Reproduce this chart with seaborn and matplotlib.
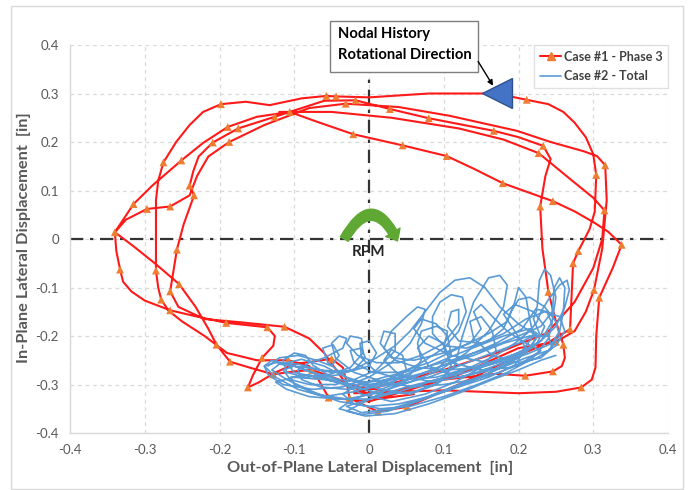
import matplotlib
matplotlib.use("Agg")
import matplotlib.pyplot as plt
import seaborn as sns
import pandas as pd
from matplotlib.lines import Line2D
from matplotlib.patches import Rectangle, FancyArrowPatch

sns.set_theme(style="white")
plt.rcParams['font.family'] = ['Lato', 'DejaVu Sans']

ticks = [-0.4, -0.3, -0.2, -0.1, 0.0, 0.1, 0.2, 0.3, 0.4]
tick_labels = ['-0.4', '-0.3', '-0.2', '-0.1', '0', '0.1', '0.2', '0.3', '0.4']
series_names = ['Case #1 - Phase 3', 'Case #2 - Total']

# Case #1 - Phase 3 : (x, y, has_marker)
case1_path = [
    (-0.120, 0.262, 0), (-0.050, 0.262, 0), (0.030, 0.250, 0), (0.120, 0.228, 0),
    (0.180, 0.205, 0), (0.227, 0.177, 1), (0.272, 0.120, 0), (0.300, 0.085, 0),
    (0.315, 0.059, 1), (0.312, 0.000, 0), (0.300, -0.060, 0), (0.275, -0.130, 0),
    (0.238, -0.194, 1), (0.180, -0.230, 0), (0.100, -0.270, 0),
    (-0.020, -0.318, 0), (0.100, -0.312, 0), (0.200, -0.318, 0), (0.250, -0.315, 0),
    (0.284, -0.306, 1), (0.298, -0.290, 0), (0.303, -0.265, 0), (0.304, -0.200, 0),
    (0.308, -0.121, 1), (0.326, -0.060, 0), (0.338, -0.012, 1), (0.320, 0.015, 0),
    (0.300, 0.035, 0), (0.275, 0.057, 0), (0.246, 0.078, 1), (0.179, 0.115, 1),
    (0.140, 0.145, 0), (0.104, 0.171, 1), (0.045, 0.193, 1), (-0.021, 0.216, 1),
    (-0.070, 0.242, 0), (-0.106, 0.262, 1), (-0.150, 0.252, 0), (-0.189, 0.231, 1),
    (-0.222, 0.198, 0), (-0.251, 0.162, 1), (-0.290, 0.110, 0), (-0.315, 0.072, 1),
    (-0.340, 0.014, 1), (-0.338, -0.025, 0), (-0.333, -0.063, 1), (-0.329, -0.088, 0),
    (-0.318, -0.108, 0), (-0.300, -0.127, 0), (-0.266, -0.147, 1), (-0.230, -0.160, 0),
    (-0.191, -0.173, 1), (-0.136, -0.182, 1), (-0.126, -0.200, 0), (-0.128, -0.220, 0),
    (-0.143, -0.245, 1), (-0.155, -0.280, 0), (-0.162, -0.306, 1), (-0.148, -0.296, 0),
    (-0.125, -0.275, 0), (-0.100, -0.258, 0), (-0.050, -0.247, 1), (-0.035, -0.265, 0),
    (-0.030, -0.295, 0), (-0.026, -0.328, 1), (0.012, -0.356, 1), (0.051, -0.346, 1),
    (0.120, -0.300, 0), (0.200, -0.240, 0), (0.238, -0.215, 0), (0.269, -0.186, 1),
    (0.271, -0.120, 0), (0.273, -0.050, 1), (0.280, -0.025, 1), (0.295, 0.020, 0),
    (0.302, 0.056, 0), (0.304, 0.132, 1), (0.300, 0.175, 0), (0.290, 0.210, 0),
    (0.275, 0.240, 0), (0.260, 0.262, 0), (0.240, 0.278, 0), (0.211, 0.287, 1),
    (0.170, 0.300, 0), (0.080, 0.300, 0), (0.000, 0.292, 0), (-0.044, 0.294, 1),
    (-0.057, 0.295, 1), (-0.090, 0.290, 0), (-0.133, 0.276, 0), (-0.165, 0.283, 0),
    (-0.198, 0.278, 1), (-0.222, 0.262, 0), (-0.240, 0.235, 0), (-0.258, 0.200, 0),
    (-0.275, 0.158, 1), (-0.282, 0.120, 0), (-0.285, 0.080, 0), (-0.285, 0.000, 0),
    (-0.285, -0.065, 1), (-0.282, -0.100, 0), (-0.278, -0.125, 1), (-0.268, -0.148, 0),
    (-0.250, -0.170, 0), (-0.220, -0.200, 0), (-0.190, -0.235, 0), (-0.150, -0.250, 0),
    (-0.108, -0.250, 1), (-0.080, -0.262, 0), (-0.071, -0.281, 1), (-0.054, -0.327, 1),
    (0.000, -0.335, 0), (0.100, -0.290, 0), (0.170, -0.278, 0), (0.209, -0.282, 1),
    (0.246, -0.273, 1), (0.258, -0.262, 0), (0.262, -0.245, 0), (0.260, -0.218, 1),
    (0.250, -0.170, 0), (0.240, -0.109, 1), (0.232, -0.020, 0), (0.229, 0.067, 1),
    (0.236, 0.130, 0), (0.243, 0.165, 0), (0.233, 0.192, 1), (0.200, 0.210, 0),
    (0.167, 0.223, 1), (0.080, 0.249, 1), (0.028, 0.268, 1), (-0.018, 0.286, 1),
    (-0.060, 0.285, 0), (-0.126, 0.252, 1), (-0.175, 0.228, 1), (-0.209, 0.199, 1),
    (-0.228, 0.170, 0), (-0.235, 0.140, 0), (-0.240, 0.110, 1), (-0.234, 0.090, 1),
    (-0.248, 0.030, 0), (-0.257, -0.022, 1), (-0.262, -0.070, 0), (-0.266, -0.108, 1),
    (-0.255, -0.140, 0), (-0.220, -0.165, 0), (-0.170, -0.172, 0), (-0.113, -0.181, 1),
    (-0.080, -0.205, 0), (-0.060, -0.235, 0), (-0.030, -0.300, 0), (0.030, -0.315, 0),
    (0.120, -0.280, 0), (0.200, -0.225, 0), (0.250, -0.212, 1), (0.275, -0.190, 0),
    (0.290, -0.150, 0), (0.301, -0.105, 1), (0.312, -0.020, 0), (0.318, 0.080, 0),
    (0.316, 0.152, 1), (0.305, 0.171, 0), (0.287, 0.181, 0), (0.243, 0.200, 0),
    (0.198, 0.223, 0), (0.108, 0.254, 0), (0.040, 0.272, 0), (-0.031, 0.279, 1),
    (-0.080, 0.270, 0), (-0.140, 0.235, 0), (-0.187, 0.200, 1), (-0.215, 0.170, 0),
    (-0.230, 0.130, 0), (-0.240, 0.090, 0), (-0.266, 0.067, 1), (-0.297, 0.062, 1),
    (-0.325, 0.040, 0), (-0.340, 0.014, 0), (-0.315, -0.015, 0), (-0.285, -0.052, 0),
    (-0.254, -0.093, 1), (-0.232, -0.140, 0), (-0.215, -0.185, 0), (-0.204, -0.218, 1),
    (-0.186, -0.253, 1), (-0.160, -0.265, 0), (-0.128, -0.279, 1), (-0.100, -0.273, 0),
    (-0.076, -0.270, 1), (-0.040, -0.290, 0), (0.010, -0.330, 0), (0.060, -0.320, 0),
]

# Case #2 - Total : (x, y)
case2_path = [
    (-0.135, -0.262), (-0.120, -0.245), (-0.095, -0.240), (-0.070, -0.250), (-0.050, -0.262),
    (-0.040, -0.240), (-0.048, -0.218), (-0.062, -0.225), (-0.055, -0.255), (-0.030, -0.285),
    (0.000, -0.300), (0.040, -0.300), (0.080, -0.285), (0.120, -0.262), (0.160, -0.238),
    (0.200, -0.215), (0.225, -0.195), (0.215, -0.185), (0.180, -0.200), (0.130, -0.230),
    (0.080, -0.262), (0.030, -0.290), (-0.020, -0.315), (-0.060, -0.325), (-0.095, -0.310),
    (-0.125, -0.285), (-0.140, -0.262), (-0.130, -0.250), (-0.100, -0.262), (-0.060, -0.285),
    (-0.020, -0.305), (0.020, -0.320), (0.060, -0.315), (0.095, -0.295), (0.110, -0.260),
    (0.100, -0.215), (0.080, -0.200), (0.065, -0.225), (0.080, -0.262), (0.120, -0.285),
    (0.165, -0.270), (0.200, -0.245), (0.230, -0.210), (0.245, -0.170), (0.250, -0.120),
    (0.243, -0.075), (0.235, -0.062), (0.228, -0.085), (0.225, -0.140), (0.205, -0.185),
    (0.170, -0.215), (0.125, -0.245), (0.075, -0.275), (0.025, -0.305), (-0.020, -0.330),
    (-0.040, -0.350), (-0.010, -0.362), (0.025, -0.355), (0.065, -0.335), (0.110, -0.310),
    (0.150, -0.285), (0.190, -0.255), (0.215, -0.225), (0.225, -0.200), (0.200, -0.175),
    (0.175, -0.140), (0.155, -0.100), (0.135, -0.080), (0.115, -0.085), (0.095, -0.110),
    (0.075, -0.150), (0.055, -0.190), (0.035, -0.220), (0.010, -0.245), (-0.015, -0.265),
    (-0.040, -0.280), (-0.070, -0.285), (-0.100, -0.275), (-0.110, -0.255), (-0.090, -0.248),
    (-0.060, -0.262), (-0.025, -0.290), (0.015, -0.310), (0.055, -0.320), (0.090, -0.300),
    (0.115, -0.260), (0.125, -0.200), (0.140, -0.130), (0.160, -0.080), (0.175, -0.075),
    (0.185, -0.095), (0.180, -0.140), (0.160, -0.190), (0.130, -0.235), (0.095, -0.270),
    (0.055, -0.295), (0.010, -0.318), (-0.030, -0.330), (-0.070, -0.320), (-0.100, -0.300),
    (-0.105, -0.285), (-0.080, -0.280), (-0.045, -0.295), (-0.010, -0.310), (0.030, -0.300),
    (0.050, -0.270), (0.045, -0.240), (0.030, -0.228), (0.020, -0.250), (0.040, -0.280),
    (0.085, -0.295), (0.135, -0.280), (0.180, -0.255), (0.215, -0.235), (0.245, -0.215),
    (0.255, -0.190), (0.260, -0.150), (0.262, -0.100), (0.255, -0.080), (0.248, -0.100),
    (0.245, -0.150), (0.230, -0.180), (0.200, -0.200), (0.160, -0.225), (0.110, -0.250),
    (0.060, -0.270), (0.020, -0.285), (-0.015, -0.300), (-0.035, -0.320), (-0.020, -0.340),
    (0.015, -0.350), (0.055, -0.345), (0.100, -0.325), (0.145, -0.300), (0.185, -0.275),
    (0.215, -0.250), (0.230, -0.230), (0.210, -0.215), (0.185, -0.190), (0.165, -0.160),
    (0.150, -0.135), (0.140, -0.150), (0.150, -0.185), (0.135, -0.215), (0.100, -0.235),
    (0.060, -0.250), (0.030, -0.245), (0.015, -0.215), (0.020, -0.190), (0.035, -0.195),
    (0.035, -0.230), (0.010, -0.270), (-0.020, -0.290), (-0.045, -0.300), (-0.080, -0.300),
    (-0.105, -0.290), (-0.115, -0.270), (-0.100, -0.262), (-0.075, -0.275), (-0.040, -0.290),
    (0.000, -0.295), (0.050, -0.285), (0.090, -0.270), (0.110, -0.240), (0.105, -0.200),
    (0.090, -0.175), (0.070, -0.165), (0.060, -0.185), (0.075, -0.215), (0.110, -0.240),
    (0.160, -0.255), (0.200, -0.240), (0.225, -0.215), (0.235, -0.180), (0.220, -0.150),
    (0.195, -0.135), (0.180, -0.155), (0.195, -0.190), (0.210, -0.225), (0.195, -0.260),
    (0.160, -0.285), (0.120, -0.305), (0.080, -0.325), (0.040, -0.340), (0.000, -0.345),
    (-0.040, -0.335), (-0.075, -0.315), (-0.110, -0.290), (-0.130, -0.270), (-0.120, -0.258),
    (-0.085, -0.265), (-0.050, -0.275), (-0.020, -0.270), (-0.005, -0.245), (-0.010, -0.225),
    (-0.025, -0.230), (-0.020, -0.255), (0.005, -0.275), (0.040, -0.275), (0.080, -0.255),
    (0.120, -0.225), (0.160, -0.195), (0.185, -0.170), (0.195, -0.130), (0.200, -0.100),
    (0.210, -0.120), (0.215, -0.165), (0.220, -0.200), (0.205, -0.230), (0.170, -0.255),
    (0.130, -0.275), (0.090, -0.290), (0.050, -0.305), (0.010, -0.325), (-0.030, -0.345),
    (-0.010, -0.358), (0.030, -0.350), (0.070, -0.330), (0.120, -0.300), (0.170, -0.270),
    (0.210, -0.245), (0.240, -0.230), (0.255, -0.200), (0.250, -0.170), (0.235, -0.140),
    (0.215, -0.120), (0.200, -0.125), (0.190, -0.150), (0.180, -0.185), (0.160, -0.210),
    (0.130, -0.225), (0.100, -0.220), (0.085, -0.195), (0.085, -0.160), (0.095, -0.130),
    (0.110, -0.115), (0.125, -0.120), (0.130, -0.150), (0.120, -0.190), (0.100, -0.225),
    (0.070, -0.255), (0.040, -0.280), (0.005, -0.300), (-0.030, -0.310), (-0.065, -0.305),
    (-0.090, -0.290), (-0.095, -0.270), (-0.080, -0.255), (-0.060, -0.245), (-0.035, -0.225),
    (-0.030, -0.205), (-0.040, -0.200), (-0.050, -0.215), (-0.045, -0.245), (-0.020, -0.275),
    (0.020, -0.295), (0.060, -0.305), (0.100, -0.300), (0.140, -0.290), (0.175, -0.275),
    (0.205, -0.255), (0.225, -0.235), (0.240, -0.205), (0.245, -0.175), (0.238, -0.150),
    (0.225, -0.145), (0.220, -0.165), (0.228, -0.195), (0.215, -0.225), (0.185, -0.250),
    (0.145, -0.265), (0.105, -0.270), (0.065, -0.265), (0.035, -0.250), (0.020, -0.225),
    (0.030, -0.190), (0.050, -0.160), (0.065, -0.140), (0.075, -0.145), (0.070, -0.175),
    (0.055, -0.215), (0.030, -0.255), (0.000, -0.285), (-0.035, -0.305), (-0.075, -0.310),
    (-0.115, -0.300), (-0.135, -0.280), (-0.140, -0.262), (-0.125, -0.255), (-0.095, -0.258),
    (-0.065, -0.270), (-0.030, -0.275), (0.000, -0.262), (0.010, -0.235), (0.000, -0.210),
    (-0.012, -0.215), (-0.010, -0.245), (0.010, -0.275), (0.045, -0.290), (0.090, -0.285),
    (0.135, -0.265), (0.170, -0.240), (0.195, -0.215), (0.215, -0.190), (0.225, -0.170),
    (0.230, -0.150), (0.240, -0.125), (0.255, -0.095), (0.265, -0.085), (0.268, -0.105),
    (0.262, -0.140), (0.250, -0.180), (0.230, -0.210), (0.200, -0.235), (0.160, -0.255),
    (0.120, -0.275), (0.080, -0.295), (0.040, -0.315), (0.000, -0.330), (-0.040, -0.330),
    (-0.080, -0.325), (-0.110, -0.310), (-0.125, -0.295), (-0.100, -0.285), (-0.060, -0.290),
    (-0.020, -0.300), (0.020, -0.300), (0.055, -0.280), (0.070, -0.250), (0.065, -0.215),
    (0.070, -0.190), (0.090, -0.180), (0.105, -0.190), (0.100, -0.225), (0.110, -0.255),
    (0.150, -0.270), (0.190, -0.265), (0.225, -0.245), (0.250, -0.220), (0.262, -0.190),
    (0.255, -0.160), (0.235, -0.150), (0.210, -0.165), (0.180, -0.195), (0.150, -0.215),
    (0.120, -0.210), (0.105, -0.180), (0.110, -0.150), (0.120, -0.145), (0.120, -0.175),
    (0.100, -0.215), (0.070, -0.240), (0.040, -0.255), (0.010, -0.255), (-0.015, -0.240),
    (-0.030, -0.215), (-0.025, -0.200), (-0.010, -0.205), (-0.008, -0.235), (-0.025, -0.265),
    (-0.055, -0.280), (-0.085, -0.285), (-0.110, -0.275), (-0.115, -0.250), (-0.100, -0.235),
    (-0.085, -0.240), (-0.075, -0.260), (-0.050, -0.285), (-0.010, -0.320), (0.030, -0.335),
    (0.075, -0.320), (0.115, -0.295), (0.150, -0.265), (0.170, -0.230), (0.165, -0.190),
    (0.150, -0.160), (0.135, -0.170), (0.140, -0.205), (0.165, -0.240), (0.200, -0.255),
    (0.230, -0.245), (0.245, -0.225), (0.240, -0.200), (0.215, -0.200), (0.180, -0.215),
    (0.140, -0.240), (0.100, -0.260), (0.060, -0.285), (0.025, -0.310), (-0.005, -0.335),
    (-0.030, -0.355), (-0.005, -0.365), (0.035, -0.360), (0.080, -0.340), (0.125, -0.315),
    (0.165, -0.290), (0.200, -0.270), (0.230, -0.250), (0.250, -0.240),
]

c1 = pd.DataFrame(case1_path, columns=['x', 'y', 'm'])
c1['t'] = range(len(c1))
c2 = pd.DataFrame(case2_path, columns=['x', 'y'])
c2['t'] = range(len(c2))

RED = '#ff1a1a'
ORANGE = '#ed7d31'
BLUE = '#5b9bd5'
GRAY = '#595959'

fig = plt.figure(figsize=(6.89, 4.90), dpi=100)
ax = fig.add_axes([70 / 689, 1 - 433 / 490, 598 / 689, 388 / 490])

ax.axhline(0, color='#333333', lw=1.6, ls=(0, (6, 3, 1.5, 3)), zorder=1.5)
ax.axvline(0, color='#333333', lw=1.6, ls=(0, (6, 3, 1.5, 3)), zorder=1.5)

sns.lineplot(data=c1, x='x', y='y', sort=False, estimator=None, color=RED, lw=1.5, ax=ax,
             zorder=2, solid_joinstyle='round')
sns.scatterplot(data=c1[c1['m'] == 1], x='x', y='y', marker='^', s=32, color=ORANGE,
                edgecolor='none', ax=ax, zorder=2.5)
sns.lineplot(data=c2, x='x', y='y', sort=False, estimator=None, color=BLUE, lw=1.2, ax=ax,
             zorder=3, solid_joinstyle='round')

ax.set_xlim(-0.4, 0.4)
ax.set_ylim(-0.4, 0.4)
ax.set_xticks(ticks)
ax.set_xticklabels(tick_labels)
ax.set_yticks(ticks)
ax.set_yticklabels(tick_labels)
ax.tick_params(labelsize=9.5, colors=GRAY, length=0, pad=8)
ax.grid(True, ls=(0, (3, 3)), color='#d9d9d9', lw=0.9)
for s in ['top', 'right']:
    ax.spines[s].set_visible(False)
for s in ['left', 'bottom']:
    ax.spines[s].set_color('#d9d9d9')
    ax.spines[s].set_linewidth(1)

ax.set_xlabel('Out-of-Plane Lateral Displacement  [in]', fontsize=11.8, fontweight='bold',
              color=GRAY)
ax.set_ylabel('In-Plane Lateral Displacement  [in]', fontsize=11.8, fontweight='bold',
              color=GRAY)
ax.xaxis.set_label_coords(0.502, -0.072)
ax.yaxis.set_label_coords(-0.066, 0.503)

handles = [Line2D([0], [0], color=RED, lw=1.5, marker='^', ms=6, mfc=ORANGE, mec=ORANGE),
           Line2D([0], [0], color=BLUE, lw=1.2)]
leg = ax.legend(handles, series_names, loc='upper right', borderaxespad=0.0, frameon=True,
                fancybox=False, edgecolor='#d9d9d9', handlelength=1.7, handletextpad=0.2,
                prop={'size': 9.0, 'weight': 'bold'}, labelspacing=0.6, borderpad=0.45)
for t in leg.get_texts():
    t.set_color('#404040')
leg.get_frame().set_linewidth(1)
leg.set_zorder(7)

# annotation box
ax.add_patch(Rectangle((-0.052, 0.344), 0.198, 0.105, fc='white', ec='#7f7f7f', lw=1,
                       clip_on=False, zorder=6))
ax.text(-0.0415, 0.423, 'Nodal History', fontsize=10.6, fontweight='bold', color='black',
        va='center', ha='left', zorder=7)
ax.text(-0.0415, 0.379, 'Rotational Direction', fontsize=10.6, fontweight='bold', color='black',
        va='center', ha='left', zorder=7)
ax.annotate('', xy=(0.166, 0.316), xytext=(0.146, 0.366),
            arrowprops=dict(arrowstyle='-|>', color='black', lw=1, mutation_scale=8,
                            shrinkA=0, shrinkB=0), annotation_clip=False, zorder=7)
ax.plot([0.171], [0.301], marker='<', ms=21, color='#4472c4', mec='#2f528f', mew=1,
        zorder=6, clip_on=False)

# RPM arrow
rpm = FancyArrowPatch(posA=(-0.033, 0.0), posB=(0.038, -0.004), connectionstyle='arc3,rad=-0.95',
                      arrowstyle='simple,head_length=7,head_width=12,tail_width=6.5',
                      color='#5ea833', mutation_scale=1, zorder=4, shrinkA=0, shrinkB=0)
ax.add_patch(rpm)
ax.text(0.0, -0.026, 'RPM', fontsize=11, fontweight='bold', color='#262626', ha='center',
        va='center', zorder=5)

fig.patches.append(Rectangle((11 / 689, 1 / 490), (683 - 11) / 689, (489 - 6) / 490,
                             transform=fig.transFigure, fill=False, ec='#d9d9d9', lw=1))

fig.savefig('out.png', dpi=100)
